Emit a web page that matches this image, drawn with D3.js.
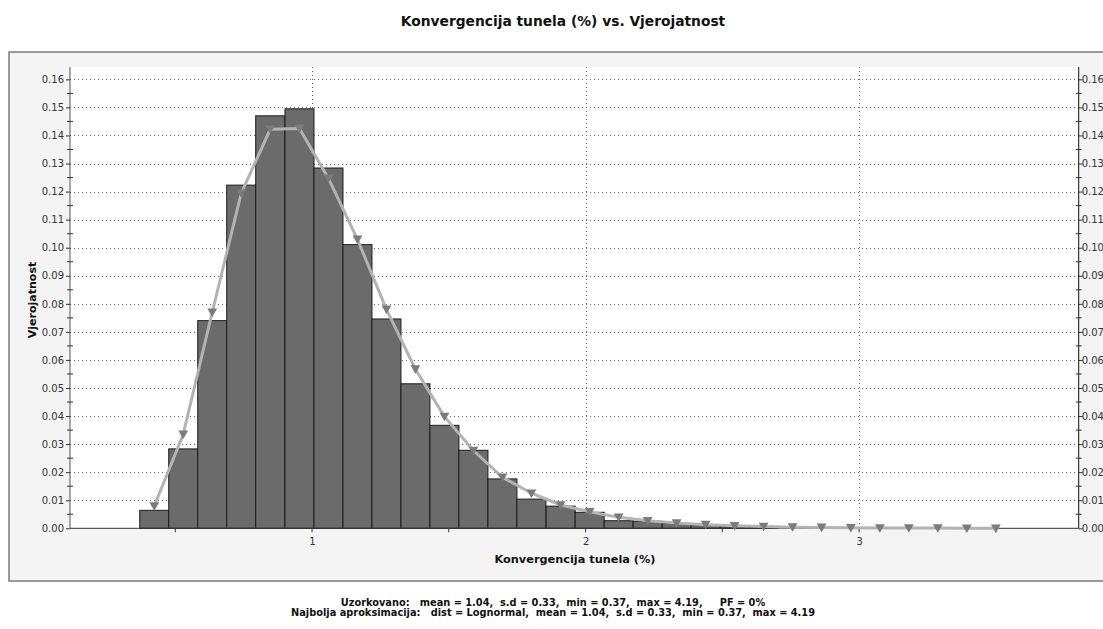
<!DOCTYPE html>
<html><head><meta charset="utf-8">
<script src="https://cdn.jsdelivr.net/npm/d3@7/dist/d3.min.js"></script>
<style>
html,body{margin:0;padding:0;background:#fff;}
svg{display:block;}
text{font-family:"DejaVu Sans",Verdana,sans-serif;}
</style></head>
<body>
<svg id="chart" width="1103" height="629"></svg>
<script>
// ---- data ----
const title = "Konvergencija tunela (%) vs. Vjerojatnost";
const xTitle = "Konvergencija tunela (%)";
const yTitle = "Vjerojatnost";
const footer1 = "Uzorkovano:   mean = 1.04,  s.d = 0.33,  min = 0.37,  max = 4.19,     PF = 0%";
const footer2 = "Najbolja aproksimacija:   dist = Lognormal,  mean = 1.04,  s.d = 0.33,  min = 0.37,  max = 4.19";
const binWidth = 0.1061;
const binCenters = [0.423,0.529,0.635,0.741,0.847,0.954,1.060,1.166,1.272,1.378,
  1.484,1.590,1.696,1.802,1.909,2.015,2.121,2.227,2.333,2.439,
  2.545,2.651,2.757,2.863,2.970,3.076,3.182,3.288,3.394,3.500];
const sampled = [0.0064,0.0283,0.0740,0.1223,0.1470,0.1495,0.1284,0.1011,0.0746,0.0515,
  0.0367,0.0278,0.0176,0.0104,0.0079,0.0057,0.0027,0.0025,0.0017,0.0012,
  0.0006,0.0003,0,0,0,0,0,0,0,0];
const fitted = [0.0079,0.0335,0.0770,0.1194,0.1422,0.1425,0.1247,0.1030,0.0780,0.0567,
  0.0398,0.0277,0.0182,0.0125,0.0083,0.0059,0.0039,0.0027,0.0019,0.0013,
  0.0009,0.0006,0.0004,0.0003,0.0002,0.0001,0.0001,0.0001,0.0000,0.0000];
const xDomain = [0.115, 3.803];
const yDomain = [0, 0.1644];
const yTicks = [0,0.01,0.02,0.03,0.04,0.05,0.06,0.07,0.08,0.09,0.10,0.11,0.12,0.13,0.14,0.15,0.16];
const yMinorTicks = [0.005,0.015,0.025,0.035,0.045,0.055,0.065,0.075,0.085,0.095,0.105,0.115,0.125,0.135,0.145,0.155];
const xLabelTicks = [1,2,3];
const xMinorTicks = [0.5,1.5,2.5,3.5];

// ---- layout ----
const svg = d3.select("#chart");
const P = {left:70, right:1078.7, top:67, bottom:528.3};
const x = d3.scaleLinear().domain(xDomain).range([P.left, P.right]);
const y = d3.scaleLinear().domain(yDomain).range([P.bottom, P.top]);

// panel
svg.append("rect").attr("x",9).attr("y",52).attr("width",1110).attr("height",529)
  .attr("fill","#f4f4f4").attr("stroke","#7a7a7a").attr("stroke-width",1.5);
// plot area
svg.append("rect").attr("x",P.left).attr("y",P.top).attr("width",P.right-P.left).attr("height",P.bottom-P.top)
  .attr("fill","#fff");

// title
svg.append("text").attr("x",563).attr("y",26).attr("text-anchor","middle")
  .attr("font-size",13.8).attr("font-weight","bold").attr("fill","#111").text(title);

// gridlines
const grid = svg.append("g");
grid.selectAll("line.h").data(yTicks.filter(d=>d>0)).join("line")
  .attr("x1",P.left).attr("x2",P.right).attr("y1",d=>Math.round(y(d))+0.5).attr("y2",d=>Math.round(y(d))+0.5)
  .attr("stroke","#666").attr("stroke-dasharray","1,3");
grid.selectAll("line.v").data(xLabelTicks).join("line")
  .attr("y1",P.top).attr("y2",P.bottom).attr("x1",d=>Math.round(x(d))+0.5).attr("x2",d=>Math.round(x(d))+0.5)
  .attr("stroke","#666").attr("stroke-dasharray","1,3");

// bars
svg.append("g").selectAll("rect").data(binCenters.map((c,i)=>({c, v:sampled[i]})).filter(d=>d.v>0)).join("rect")
  .attr("x",d=>x(d.c-binWidth/2)).attr("width",d=>x(d.c+binWidth/2)-x(d.c-binWidth/2))
  .attr("y",d=>y(d.v)).attr("height",d=>y(0)-y(d.v))
  .attr("fill","#6b6b6b").attr("stroke","#1c1c1c").attr("stroke-width",1);

// axes
const axL = d3.axisLeft(y).tickValues(yTicks).tickFormat(d3.format(".2f")).tickSize(4).tickPadding(2);
const gL = svg.append("g").attr("transform",`translate(${P.left},0)`).call(axL);
const axR = d3.axisRight(y).tickValues(yTicks).tickFormat(d3.format(".2f")).tickSize(4).tickPadding(-1);
const gR = svg.append("g").attr("transform",`translate(${P.right},0)`).call(axR);
const axB = d3.axisBottom(x).tickValues(xLabelTicks).tickFormat(d3.format("d")).tickSize(0).tickPadding(10);
const gB = svg.append("g").attr("transform",`translate(0,${P.bottom})`).call(axB);
[gL,gR,gB].forEach(g=>{
  g.selectAll("text").attr("font-family","DejaVu Sans, Verdana, sans-serif").attr("font-size",10).attr("fill","#333");
  g.selectAll(".tick line").attr("stroke","#333");
  g.select(".domain").attr("stroke","#333");
});
gL.select(".domain").attr("d",`M0,${P.top}V${P.bottom}`).attr("stroke","#555");
gR.select(".domain").attr("d",`M0,${P.top}V${P.bottom}`).attr("stroke","#111");
gB.select(".domain").attr("d",`M${P.left},0H${P.right}`).attr("stroke","#333");
// minor ticks
svg.append("g").selectAll("line").data(yMinorTicks).join("line")
  .attr("x1",P.left-3).attr("x2",P.left+3).attr("y1",d=>y(d)).attr("y2",d=>y(d)).attr("stroke","#333");
svg.append("g").selectAll("line").data(yMinorTicks).join("line")
  .attr("x1",P.right-3).attr("x2",P.right+3).attr("y1",d=>y(d)).attr("y2",d=>y(d)).attr("stroke","#333");
svg.append("g").selectAll("line").data(xMinorTicks.concat(xLabelTicks)).join("line")
  .attr("x1",d=>x(d)).attr("x2",d=>x(d)).attr("y1",P.bottom).attr("y2",P.bottom+4).attr("stroke","#333");

// fitted line + markers
const pts = binCenters.map((c,i)=>({c, v:fitted[i]}));
svg.append("path").datum(pts)
  .attr("d",d3.line().x(d=>x(d.c)).y(d=>y(d.v)))
  .attr("fill","none").attr("stroke","#b3b3b3").attr("stroke-width",3);
svg.append("g").selectAll("path").data(pts).join("path")
  .attr("d",d3.symbol().type(d3.symbolTriangle).size(42))
  .attr("transform",d=>`translate(${x(d.c)},${y(d.v)-1}) rotate(180)`)
  .attr("fill","#7b7b7b");

// axis titles
svg.append("text").attr("x",575).attr("y",563).attr("text-anchor","middle")
  .attr("font-size",11.3).attr("font-weight","bold").attr("fill","#111").text(xTitle);
svg.append("text").attr("transform","translate(36,300) rotate(-90)").attr("text-anchor","middle")
  .attr("font-size",11).attr("font-weight","bold").attr("fill","#111").text(yTitle);

// footer
svg.append("text").attr("x",553).attr("y",606).attr("text-anchor","middle").attr("xml:space","preserve")
  .style("white-space","pre").attr("font-size",9.8).attr("font-weight","bold").attr("fill","#111").text(footer1);
svg.append("text").attr("x",553).attr("y",616).attr("text-anchor","middle").attr("xml:space","preserve")
  .style("white-space","pre").attr("font-size",9.8).attr("font-weight","bold").attr("fill","#111").text(footer2);
</script>
</body></html>
